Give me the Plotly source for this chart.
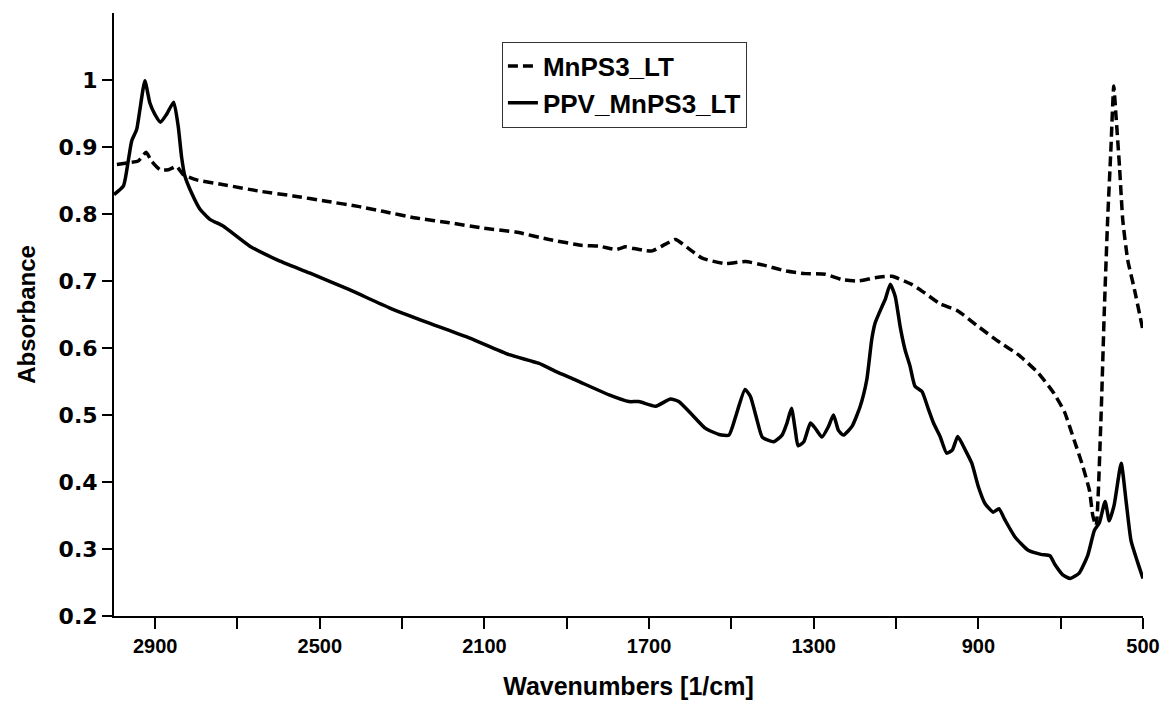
import plotly.graph_objects as go

# MnPS3_LT (dashed)
wn_mnps3 = [2993, 2961, 2941, 2922, 2909, 2888, 2868, 2848, 2832, 2799, 2727, 2646, 2565, 2484,
            2404, 2347, 2266, 2185, 2104, 2024, 1943, 1862, 1822, 1781, 1757, 1741, 1716, 1692,
            1660, 1636, 1603, 1571, 1514, 1466, 1417, 1369, 1320, 1272, 1231, 1191, 1151, 1110,
            1062, 1030, 993, 949, 900, 852, 803, 755, 716, 691, 667, 647, 630, 622, 614, 602,
            594, 586, 578, 571, 566, 557, 549, 537, 521, 500]
abs_mnps3 = [0.874, 0.877, 0.879, 0.892, 0.879, 0.866, 0.866, 0.871, 0.859, 0.851, 0.843, 0.834,
             0.827, 0.819, 0.811, 0.804, 0.794, 0.787, 0.779, 0.773, 0.762, 0.753, 0.752, 0.747,
             0.751, 0.749, 0.746, 0.745, 0.755, 0.762, 0.748, 0.734, 0.726, 0.729, 0.723, 0.715,
             0.711, 0.710, 0.702, 0.700, 0.705, 0.707, 0.695, 0.682, 0.666, 0.655, 0.632, 0.610,
             0.590, 0.563, 0.532, 0.505, 0.462, 0.425, 0.387, 0.350, 0.334, 0.497, 0.656, 0.790,
             0.897, 0.991, 0.950, 0.870, 0.790, 0.731, 0.688, 0.626]

# PPV_MnPS3_LT (solid)
wn_ppv = [3000, 2977, 2965, 2957, 2945, 2937, 2925, 2913, 2901, 2887, 2872, 2855, 2844, 2836,
          2828, 2812, 2791, 2767, 2735, 2670, 2605, 2525, 2428, 2331, 2234, 2137, 2040, 1967,
          1927, 1878, 1797, 1749, 1725, 1684, 1648, 1628, 1595, 1563, 1530, 1506, 1490, 1467,
          1454, 1438, 1425, 1397, 1377, 1365, 1354, 1345, 1338, 1324, 1308, 1296, 1280, 1264,
          1252, 1240, 1228, 1207, 1187, 1171, 1159, 1151, 1134, 1126, 1114, 1102, 1090, 1078,
          1066, 1054, 1037, 1021, 1009, 993, 977, 963, 950, 932, 916, 900, 884, 864, 850, 835,
          811, 779, 748, 726, 714, 694, 677, 655, 634, 618, 606, 592, 582, 570, 553, 541, 529,
          513, 500]
abs_ppv = [0.829, 0.842, 0.881, 0.909, 0.926, 0.956, 0.999, 0.966, 0.949, 0.937, 0.949, 0.967,
           0.931, 0.886, 0.857, 0.832, 0.807, 0.792, 0.782, 0.752, 0.732, 0.712, 0.687, 0.660,
           0.637, 0.615, 0.590, 0.577, 0.565, 0.552, 0.530, 0.520, 0.520, 0.513, 0.524, 0.520,
           0.500, 0.480, 0.471, 0.470, 0.497, 0.538, 0.528, 0.493, 0.467, 0.460, 0.470, 0.488,
           0.510, 0.478, 0.454, 0.460, 0.488, 0.480, 0.467, 0.483, 0.500, 0.477, 0.470, 0.483,
           0.513, 0.553, 0.613, 0.637, 0.662, 0.673, 0.695, 0.677, 0.632, 0.597, 0.573, 0.543,
           0.535, 0.508, 0.488, 0.468, 0.443, 0.448, 0.468, 0.448, 0.428, 0.393, 0.368, 0.355,
           0.360, 0.343, 0.318, 0.298, 0.292, 0.290, 0.277, 0.261, 0.256, 0.264, 0.291, 0.328,
           0.339, 0.371, 0.342, 0.366, 0.428, 0.371, 0.312, 0.280, 0.256]

x_ticks = [2900, 2500, 2100, 1700, 1300, 900, 500]
y_ticks = [0.2, 0.3, 0.4, 0.5, 0.6, 0.7, 0.8, 0.9, 1.0]
y_ticktext = ["0.2", "0.3", "0.4", "0.5", "0.6", "0.7", "0.8", "0.9", "1"]

fig = go.Figure()
fig.add_trace(go.Scatter(x=wn_mnps3, y=abs_mnps3, mode="lines", name="MnPS3_LT",
                         line=dict(color="black", width=3.5, dash="10px,5px",
                                   shape="spline", smoothing=0.5)))
fig.add_trace(go.Scatter(x=wn_ppv, y=abs_ppv, mode="lines", name="PPV_MnPS3_LT",
                         line=dict(color="black", width=3.5, shape="spline", smoothing=0.5)))

fig.update_layout(
    width=1160, height=694,
    paper_bgcolor="white", plot_bgcolor="white",
    margin=dict(l=106, r=25, t=5, b=86),
    font=dict(family="Liberation Sans, Arial, sans-serif", color="black"),
    showlegend=True,
    legend=dict(x=0.377, y=0.9525, xanchor="left", yanchor="top",
                bordercolor="#333333", borderwidth=1, bgcolor="white",
                font=dict(size=26, family="Liberation Sans, Arial", weight="bold")),
    xaxis=dict(range=[3000, 500], tickvals=x_ticks, ticktext=[str(v) for v in x_ticks],
               showgrid=False, zeroline=False, showline=True, linecolor="black", linewidth=2,
               ticks="outside", ticklen=11, tickwidth=1.5, tickcolor="black",
               minor=dict(dtick=200, tick0=500, ticks="outside", ticklen=11, tickwidth=1.5,
                          tickcolor="black", showgrid=False),
               tickfont=dict(size=20, family="Liberation Sans, Arial", weight="bold"),
               title=dict(text="Wavenumbers [1/cm]", standoff=21,
                          font=dict(size=25, family="Liberation Sans, Arial", weight="bold"))),
    yaxis=dict(range=[0.2, 1.1], tickvals=y_ticks, ticktext=y_ticktext,
               showgrid=False, zeroline=False, showline=True, linecolor="black", linewidth=2,
               ticks="outside", ticklen=10, tickwidth=1.5, tickcolor="black",
               tickfont=dict(size=22, family="DejaVu Sans, Arial", weight="bold"),
               title=dict(text="Absorbance", standoff=16,
                          font=dict(size=24, family="Liberation Sans, Arial", weight="bold"))),
)

fig.write_html("out.html")
